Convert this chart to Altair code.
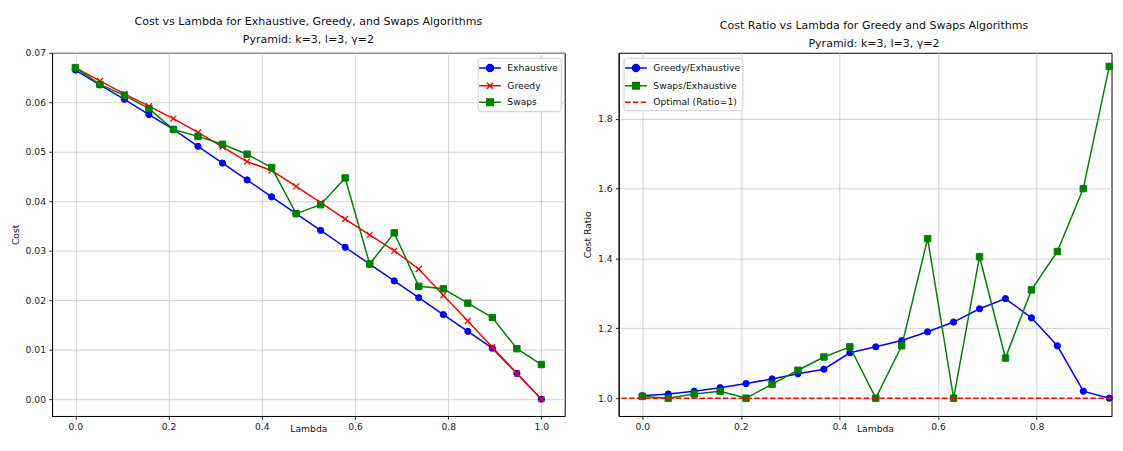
import altair as alt
import pandas as pd

FONT = "DejaVu Sans"
SMALL = 9.3
TITLE_SIZE = 11.15

# ---------------- data ----------------
lambdas = [0.0, 0.0526, 0.1053, 0.1579, 0.2105, 0.2632, 0.3158, 0.3684, 0.4211, 0.4737,
           0.5263, 0.5789, 0.6316, 0.6842, 0.7368, 0.7895, 0.8421, 0.8947, 0.9474, 1.0]
exhaustive = [0.0665, 0.0635, 0.0606, 0.0575, 0.0545, 0.0511, 0.0477, 0.0443, 0.0409, 0.0375,
              0.0341, 0.0307, 0.0273, 0.0239, 0.0205, 0.0171, 0.0137, 0.0103, 0.0052, 0.0]
greedy = [0.0670, 0.0643, 0.0617, 0.0592, 0.0567, 0.0539, 0.0510, 0.0480, 0.0462, 0.0430,
          0.0397, 0.0364, 0.0332, 0.0300, 0.0263, 0.0210, 0.0158, 0.0105, 0.0052, 0.0]
swaps = [0.0670, 0.0636, 0.0614, 0.0587, 0.0545, 0.0531, 0.0515, 0.0495, 0.0468, 0.0375,
         0.0393, 0.0447, 0.0273, 0.0336, 0.0228, 0.0223, 0.0194, 0.0165, 0.0102, 0.0070]

ratio_lambdas = [0.0, 0.0526, 0.1053, 0.1579, 0.2105, 0.2632, 0.3158, 0.3684, 0.4211, 0.4737,
                 0.5263, 0.5789, 0.6316, 0.6842, 0.7368, 0.7895, 0.8421, 0.8947, 0.9474]
greedy_ratio = [1.007, 1.012, 1.020, 1.030, 1.042, 1.055, 1.070, 1.083, 1.130, 1.147,
                1.165, 1.190, 1.218, 1.256, 1.285, 1.230, 1.150, 1.020, 1.000]
swaps_ratio = [1.005, 1.000, 1.012, 1.020, 1.000, 1.040, 1.080, 1.118, 1.147, 1.000,
               1.150, 1.457, 1.000, 1.405, 1.115, 1.310, 1.420, 1.600, 1.950]
optimal_ratio = [1.0]

left_names = ["Exhaustive", "Greedy", "Swaps"]
right_names = ["Greedy/Exhaustive", "Swaps/Exhaustive", "Optimal (Ratio=1)"]

BLUE, RED, GREEN = "#0000ff", "#ff0000", "#008000"

# marker shapes (plot)
X_PATH = "M-1,-1L1,1M-1,1L1,-1"
# legend symbols (line + marker); unit = 7.5 px
LEG_CIRCLE = "M-1.47,0H1.47M0.47,0A0.47,0.47 0 1,1 -0.47,0A0.47,0.47 0 1,1 0.47,0Z"
LEG_X = "M-1.47,0H1.47M-0.4,-0.4L0.4,0.4M-0.4,0.4L0.4,-0.4"
LEG_SQ = "M-1.47,0H1.47M-0.44,-0.44H0.44V0.44H-0.44Z"
LEG_DASH = "M-1.47,0H-0.73M-0.41,0H0.32M0.64,0H1.37"

left_df = pd.DataFrame({
    "lambda": lambdas * 3,
    "value": exhaustive + greedy + swaps,
    "series": ["Exhaustive"] * len(lambdas) + ["Greedy"] * len(lambdas) + ["Swaps"] * len(lambdas),
})
right_df = pd.DataFrame({
    "lambda": ratio_lambdas * 2,
    "value": greedy_ratio + swaps_ratio,
    "series": ["Greedy/Exhaustive"] * len(ratio_lambdas) + ["Swaps/Exhaustive"] * len(ratio_lambdas),
})


def series_layers(df, name, color, shape, filled, size, xenc, yenc):
    base = alt.Chart(df).transform_filter(alt.datum.series == name)
    line = base.mark_line(color=color, strokeWidth=1.5).encode(x=xenc, y=yenc)
    if filled:
        pts = base.mark_point(shape=shape, filled=True, fill=color, stroke=color,
                              strokeWidth=1, size=size, opacity=1).encode(x=xenc, y=yenc)
    else:
        pts = base.mark_point(shape=shape, filled=False, stroke=color,
                              strokeWidth=1.3, size=size, opacity=1).encode(x=xenc, y=yenc)
    return [line, pts]


def legend_layer(names, colors, paths, orient):
    leg = alt.Legend(title=None, orient=orient, offset=4.5, symbolSize=225,
                     symbolStrokeWidth=1.5, symbolOpacity=1, symbolOffset=2,
                     labelFont=FONT, labelFontSize=SMALL, labelColor="#111",
                     strokeColor="#d0d0d0", fillColor="white", padding=2,
                     cornerRadius=3, rowPadding=1.8, labelOffset=9)
    return alt.Chart(pd.DataFrame({"series": names})).transform_filter("false").mark_point(
        filled=True, size=225, opacity=1, strokeWidth=1.5
    ).encode(
        color=alt.Color("series:N", scale=alt.Scale(domain=names, range=colors), legend=leg),
        stroke=alt.Stroke("series:N", scale=alt.Scale(domain=names, range=colors), legend=leg),
        shape=alt.Shape("series:N", scale=alt.Scale(domain=names, range=paths), legend=leg),
    )


title_props = dict(font=FONT, fontSize=TITLE_SIZE, fontWeight="normal", color="#111",
                   anchor="middle", lineHeight=17.5, offset=4)

# ---------------- left panel ----------------
xl = alt.X("lambda:Q", scale=alt.Scale(domain=[-0.05, 1.05], nice=False, zero=False),
           axis=alt.Axis(title="Lambda", values=[0, 0.2, 0.4, 0.6, 0.8, 1.0], format=".1f",
                         titleY=9, titleBaseline="top"))
yl = alt.Y("value:Q", scale=alt.Scale(domain=[-0.0034, 0.0700], nice=False, zero=False),
           axis=alt.Axis(title="Cost", values=[0, 0.01, 0.02, 0.03, 0.04, 0.05, 0.06, 0.07],
                         format=".2f"))

left_layers = []
left_layers += series_layers(left_df, "Exhaustive", BLUE, "circle", True, 40, xl, yl)
left_layers += series_layers(left_df, "Greedy", RED, X_PATH, False, 36, xl, yl)
left_layers += series_layers(left_df, "Swaps", GREEN, "square", True, 42, xl, yl)
left_layers.append(legend_layer(left_names, [BLUE, RED, GREEN], [LEG_CIRCLE, LEG_X, LEG_SQ], "top-right"))

left = alt.layer(*left_layers).properties(
    width=518, height=367,
    title=alt.TitleParams(text=["Cost vs Lambda for Exhaustive, Greedy, and Swaps Algorithms",
                                "Pyramid: k=3, l=3, γ=2"], **title_props),
)

# ---------------- right panel ----------------
xr = alt.X("lambda:Q", scale=alt.Scale(domain=[-0.048, 0.952], nice=False, zero=False),
           axis=alt.Axis(title="Lambda", values=[0, 0.2, 0.4, 0.6, 0.8], format=".1f",
                         titleY=9, titleBaseline="top", titleX=259, titleAlign="center"))
yr = alt.Y("value:Q", scale=alt.Scale(domain=[0.949, 1.989], nice=False, zero=False),
           axis=alt.Axis(title="Cost Ratio", values=[1.0, 1.2, 1.4, 1.6, 1.8], format=".1f"))

right_layers = []
right_layers += series_layers(right_df, "Greedy/Exhaustive", BLUE, "circle", True, 40, xr, yr)
right_layers += series_layers(right_df, "Swaps/Exhaustive", GREEN, "square", True, 42, xr, yr)
right_layers.append(
    alt.Chart(pd.DataFrame({"value": optimal_ratio})).mark_rule(
        color=RED, strokeDash=[5.5, 2.4], strokeWidth=1.5
    ).encode(y=yr)
)
right_layers.append(legend_layer(right_names, [BLUE, GREEN, RED], [LEG_CIRCLE, LEG_SQ, LEG_DASH], "top-left"))

right = alt.layer(*right_layers).properties(
    width=498, height=367,
    title=alt.TitleParams(text=["Cost Ratio vs Lambda for Greedy and Swaps Algorithms",
                                "Pyramid: k=3, l=3, γ=2"], dx=9, **title_props),
)

chart = alt.hconcat(left, right, spacing=17.5).resolve_scale(
    color="independent", stroke="independent", shape="independent", x="independent", y="independent"
).properties(
    padding={"left": 2.5, "top": 5, "right": 0, "bottom": 0}, background="white"
).configure_view(
    stroke="black", strokeWidth=1
).configure_axis(
    labelFont=FONT, labelFontSize=SMALL, labelColor="#222", titleFont=FONT, titleFontSize=SMALL,
    titleFontWeight="normal", titleColor="#111", gridColor="#c8c8c8", gridWidth=0.8,
    tickColor="#222", tickSize=3.3, domainColor="black", labelPadding=3.3, titlePadding=5,
)

chart.save("out.html", embed_options={"renderer": "svg", "actions": False})
